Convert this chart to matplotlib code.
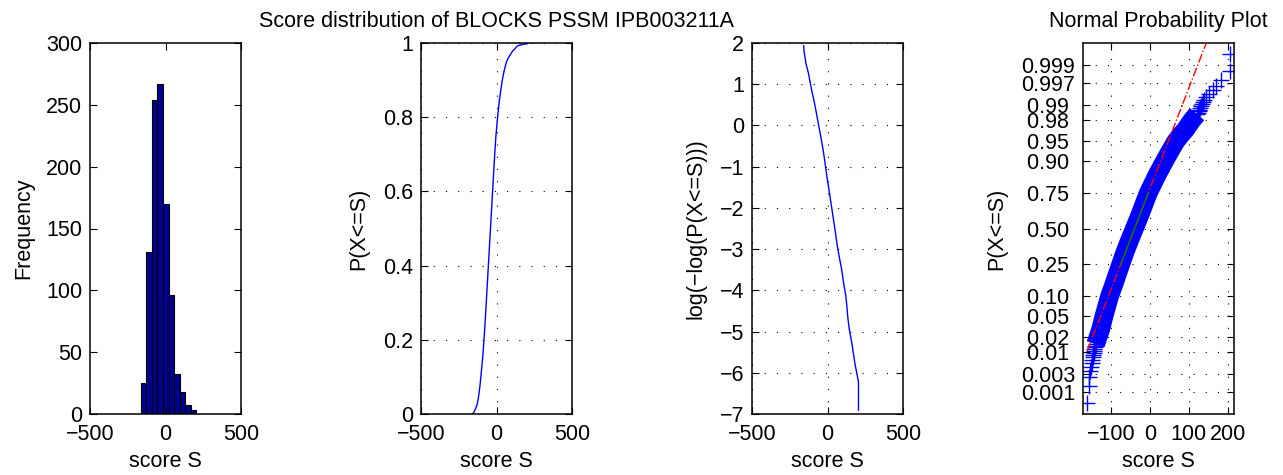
import statistics
import numpy as np
import matplotlib.pyplot as plt

plt.rcParams['font.family'] = ['Liberation Sans', 'DejaVu Sans']
plt.rcParams['font.size'] = 15.5

# histogram of the scores, 10 bins
hist_centers = [-146.5, -109.5, -72.5, -35.5, 1.5, 38.5, 75.5, 112.5, 149.5, 186.5]
hist_counts = [25, 131, 254, 267, 170, 96, 32, 18, 7, 3]

# sorted sample: rank in the sorted scores -> score
n_scores = 1000
ranks = [1, 2, 3, 4, 5, 6, 7, 8, 9, 10, 11, 12, 13, 14, 15, 20, 30, 50, 75, 100,
         150, 200, 250, 300, 350, 400, 450, 500, 550, 600, 650, 700, 750, 800, 850,
         900, 925, 950, 960, 970, 980, 985, 986, 987, 988, 989, 990, 991, 992, 993,
         994, 995, 996, 997, 998, 999, 1000]
scores = [-161, -157.5, -156, -154, -151.5, -149.5, -148, -146.5, -145.5, -144.5,
          -143.5, -142.5, -141.5, -140.5, -139.5, -134, -126, -118, -110, -104,
          -92, -83, -75, -68, -61, -54, -47, -40, -33, -26, -19, -12, -4, 7, 20,
          38, 50, 66, 77, 92, 108, 121, 123, 125, 127, 129, 131, 133, 136, 140,
          145, 153, 162, 171, 183, 205, 205]

prob_ticks = [0.001, 0.003, 0.01, 0.02, 0.05, 0.10, 0.25, 0.50, 0.75, 0.90,
              0.95, 0.98, 0.99, 0.997, 0.999]
prob_labels = ['0.001', '0.003', '0.01 ', '0.02 ', '0.05 ', '0.10 ', '0.25 ', '0.50 ',
               '0.75 ', '0.90 ', '0.95 ', '0.98 ', '0.99 ', '0.997', '0.999']

W, H = 1283, 475
ax_top, ax_bottom = 43, 414
ax_w = 151


def make_axes(fig, left_px):
    ax = fig.add_axes([left_px / W, (H - ax_bottom) / H, ax_w / W, (ax_bottom - ax_top) / H])
    ax.tick_params(direction='in', top=True, right=True, length=5, width=0.8)
    ax.tick_params(axis='x', pad=7.5)
    ax.tick_params(axis='y', pad=5.5)
    for s in ax.spines.values():
        s.set_linewidth(1.1)
    return ax


def dotted_grid(ax):
    ax.grid(True, color='k', linestyle=(0, (1, 10)), linewidth=0.8)
    ax.set_axisbelow(True)


def labels(ax, ylabel, ylab_x):
    ax.set_xlabel('score S')
    ax.xaxis.set_label_coords(0.5, -0.10)
    ax.set_ylabel(ylabel)
    ax.yaxis.set_label_coords(ylab_x, 0.5)


r = np.array(ranks, dtype=float)
s = np.array(scores, dtype=float)
p_cdf = (r - 1) / n_scores
p_plot = (r - 0.5) / n_scores
nd = statistics.NormalDist()

fig = plt.figure(figsize=(W / 100, H / 100), dpi=100)

# 1) histogram
ax1 = make_axes(fig, 90)
bw = np.diff(hist_centers)[0]
ax1.bar(hist_centers, hist_counts, width=bw, color='#00008F', edgecolor='k', linewidth=0.8)
ax1.set_xlim(-500, 500)
ax1.set_ylim(0, 300)
ax1.set_xticks([-500, 0, 500])
ax1.set_yticks(range(0, 301, 50))
labels(ax1, 'Frequency', -0.37)

# 2) empirical cdf
ax2 = make_axes(fig, 421)
ax2.plot(s, p_cdf, color='b', lw=1.0)
ax2.set_xlim(-500, 500)
ax2.set_ylim(0, 1)
ax2.set_xticks([-500, 0, 500])
ax2.set_yticks([0, 0.2, 0.4, 0.6, 0.8, 1])
ax2.set_yticklabels(['0', '0.2', '0.4', '0.6', '0.8', '1'])
dotted_grid(ax2)
labels(ax2, 'P(X<=S)', -0.34)
ax2.text(0.5, 1 + 16 / (ax_bottom - ax_top), 'Score distribution of BLOCKS PSSM IPB003211A',
         transform=ax2.transAxes, ha='center', va='baseline')

# 3) log(-log(P))
ax3 = make_axes(fig, 752)
ok = p_cdf > 0
ax3.plot(s[ok], np.log(-np.log(p_cdf[ok])), color='b', lw=1.0)
ax3.set_xlim(-500, 500)
ax3.set_ylim(-7, 2)
ax3.set_xticks([-500, 0, 500])
ax3.set_yticks(range(-7, 3))
dotted_grid(ax3)
labels(ax3, 'log(\u2212log(P(X<=S)))', -0.30)

# 4) normal probability plot
ax4 = make_axes(fig, 1083)
z = np.array([nd.inv_cdf(p) for p in p_plot])
core = (r >= 15) & (r <= 985)
# the ~1000 overlapping '+' markers merge into a solid band
ax4.plot(s[core], z[core], color='b', lw=13.5, solid_capstyle='butt', zorder=2)
ax4.plot(s, z, '+', color='b', ms=11.5, mew=1.0, zorder=2)
q1 = s[ranks.index(250)]
q3 = s[ranks.index(750)]
z1, z3 = nd.inv_cdf(0.25), nd.inv_cdf(0.75)
slope = (z3 - z1) / (q3 - q1)
xs = np.array([s.min(), s.max()])
ax4.plot(xs, z1 + (xs - q1) * slope, 'r-.', lw=1.0, zorder=3)
ax4.plot([q1, q3], [z1, z3], 'g-', lw=1.0, zorder=4)
ax4.set_xlim(-172, 216)
ax4.set_ylim(-3.5, 3.5)
ax4.set_xticks([-100, 0, 100, 200])
ax4.set_yticks([nd.inv_cdf(p) for p in prob_ticks])
ax4.set_yticklabels(prob_labels)
dotted_grid(ax4)
labels(ax4, 'P(X<=S)', -0.50)
ax4.text(0.5, 1 + 16 / (ax_bottom - ax_top), 'Normal Probability Plot',
         transform=ax4.transAxes, ha='center', va='baseline')

fig.savefig('out.png', dpi=100)
